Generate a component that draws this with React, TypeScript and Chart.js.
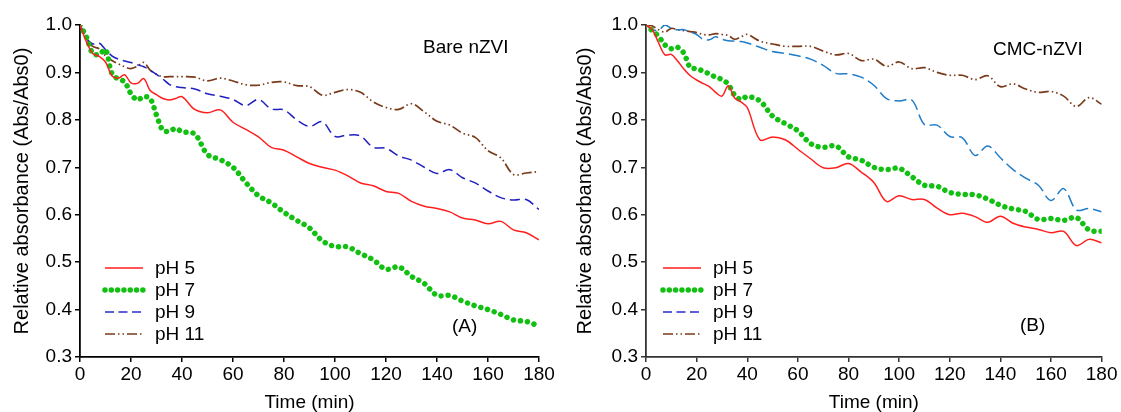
import React, { useEffect, useRef } from 'react';
import { Chart, registerables } from 'chart.js';

Chart.register(...registerables);

const FONT = '"Liberation Sans", Arial, sans-serif';

// Time (min)
const times = [
  0, 2.5, 5, 7.5, 10, 12.5, 15, 17.5, 20, 22.5, 25, 27.5, 30, 32.5, 35, 37.5, 40,
  45, 50, 55, 60, 65, 70, 75, 80, 85, 90, 95, 100, 105, 110, 115, 120, 125, 130,
  135, 140, 145, 150, 155, 160, 165, 170, 175, 180,
];

const seriesLabels = ['pH 5', 'pH 7', 'pH 9', 'pH 11'];

const xTicks = [0, 20, 40, 60, 80, 100, 120, 140, 160, 180];
const yTicks = [0.3, 0.4, 0.5, 0.6, 0.7, 0.8, 0.9, 1.0];

// (A) Bare nZVI
const barepH5 = [
  1.0, 0.965, 0.94, 0.934, 0.922, 0.893, 0.888, 0.895, 0.878, 0.877, 0.887, 0.862, 0.853, 0.845, 0.842, 0.845, 0.849,
  0.822, 0.815, 0.821, 0.795, 0.780, 0.764, 0.742, 0.736, 0.722, 0.708, 0.700, 0.694, 0.682, 0.667, 0.661, 0.649,
  0.645, 0.628, 0.618, 0.613, 0.606, 0.593, 0.589, 0.581, 0.586, 0.568, 0.562, 0.547,
];
const barepH7 = [
  1.0, 0.975, 0.94, 0.938, 0.948, 0.898, 0.886, 0.880, 0.855, 0.842, 0.849, 0.845, 0.81, 0.778, 0.776, 0.782, 0.775,
  0.770, 0.727, 0.716, 0.700, 0.668, 0.640, 0.625, 0.605, 0.588, 0.572, 0.545, 0.533, 0.532, 0.518, 0.505, 0.485,
  0.490, 0.470, 0.455, 0.430, 0.430, 0.418, 0.408, 0.400, 0.390, 0.378, 0.375, 0.365,
];
const barepH9 = [
  1.0, 0.972, 0.96, 0.962, 0.948, 0.935, 0.928, 0.924, 0.921, 0.916, 0.912, 0.905, 0.896, 0.886, 0.875, 0.870, 0.868,
  0.865, 0.855, 0.850, 0.843, 0.830, 0.843, 0.823, 0.821, 0.800, 0.786, 0.796, 0.765, 0.768, 0.766, 0.742, 0.740,
  0.724, 0.715, 0.700, 0.687, 0.695, 0.678, 0.667, 0.650, 0.636, 0.631, 0.632, 0.611,
];
const barepH11 = [
  1.0, 0.972, 0.955, 0.95, 0.935, 0.925, 0.918, 0.912, 0.908, 0.913, 0.921, 0.905, 0.896, 0.891, 0.891, 0.891, 0.891,
  0.890, 0.882, 0.888, 0.882, 0.874, 0.873, 0.879, 0.880, 0.872, 0.870, 0.852, 0.858, 0.864, 0.858, 0.838, 0.826,
  0.822, 0.834, 0.817, 0.797, 0.789, 0.772, 0.763, 0.735, 0.720, 0.685, 0.688, 0.691,
];

// (B) CMC-nZVI
const cmcpH5 = [
  1.0, 0.99, 0.962, 0.937, 0.938, 0.924, 0.907, 0.893, 0.884, 0.877, 0.870, 0.858, 0.850, 0.872, 0.846, 0.838, 0.826,
  0.758, 0.764, 0.758, 0.738, 0.718, 0.699, 0.699, 0.708, 0.690, 0.668, 0.628, 0.640, 0.632, 0.632, 0.614, 0.600,
  0.603, 0.596, 0.584, 0.597, 0.582, 0.574, 0.569, 0.562, 0.565, 0.535, 0.548, 0.541,
];
const cmcpH7 = [
  1.0, 0.988, 0.976, 0.958, 0.950, 0.953, 0.940, 0.910, 0.908, 0.903, 0.897, 0.890, 0.885, 0.875, 0.852, 0.843, 0.849,
  0.840, 0.808, 0.792, 0.777, 0.750, 0.742, 0.745, 0.722, 0.715, 0.700, 0.695, 0.698, 0.680, 0.662, 0.660, 0.647,
  0.643, 0.642, 0.633, 0.620, 0.612, 0.607, 0.590, 0.592, 0.588, 0.594, 0.568, 0.565,
];
const cmcpH9 = [
  1.0, 0.99, 0.989, 1.0, 0.993, 0.99, 0.99, 0.985, 0.98, 0.97, 0.969, 0.975, 0.97, 0.967, 0.966, 0.965, 0.962,
  0.953, 0.944, 0.940, 0.935, 0.928, 0.915, 0.898, 0.897, 0.890, 0.873, 0.845, 0.840, 0.842, 0.790, 0.789, 0.765,
  0.762, 0.725, 0.745, 0.720, 0.695, 0.677, 0.662, 0.630, 0.655, 0.610, 0.613, 0.606,
];
const cmcpH11 = [
  1.0, 0.998, 0.99, 0.985, 0.993, 0.99, 0.988, 0.986, 0.984, 0.98, 0.979, 0.982, 0.98, 0.978, 0.970, 0.975, 0.98,
  0.966, 0.960, 0.955, 0.955, 0.955, 0.945, 0.937, 0.940, 0.925, 0.928, 0.913, 0.922, 0.908, 0.910, 0.900, 0.894,
  0.894, 0.885, 0.893, 0.870, 0.876, 0.865, 0.858, 0.860, 0.850, 0.828, 0.847, 0.833,
];

const overlayPlugin = {
  id: 'overlay',
  afterDraw(chart: any, _args: any, opts: any) {
    const ctx = chart.ctx;
    ctx.save();
    const area = chart.chartArea;
    chart.data.datasets.forEach((ds: any, i: number) => {
      const y = opts.legendY + i * opts.rowGap;
      const x0 = area.left + opts.legendDx;
      ctx.beginPath();
      ctx.strokeStyle = ds.legendColor || ds.borderColor;
      ctx.lineWidth = ds.borderWidth;
      ctx.setLineDash(ds.legendDash || ds.borderDash || []);
      ctx.lineCap = ds.borderCapStyle || 'butt';
      ctx.moveTo(x0, y);
      ctx.lineTo(x0 + opts.lineLen, y);
      ctx.stroke();
      ctx.setLineDash([]);
      ctx.fillStyle = '#000';
      ctx.font = `19px ${FONT}`;
      ctx.textBaseline = 'middle';
      ctx.textAlign = 'left';
      ctx.fillText(ds.label, x0 + opts.lineLen + opts.textGap, y + 1);
    });
    (opts.labels || []).forEach((l: any) => {
      ctx.fillStyle = '#000';
      ctx.font = `19px ${FONT}`;
      ctx.textBaseline = 'middle';
      ctx.textAlign = 'left';
      ctx.fillText(l.text, l.x, l.y);
    });
    ctx.restore();
  },
};

function toPts(arr: number[]) {
  return times.map((t, i) => ({ x: t, y: arr[i] }));
}

function buildConfig(opts: {
  values: number[][];
  pH9Color: string;
  pH9Dash: number[];
  axisColor: string;
  yAxisWidth: number;
  rightPad: number;
  yTitlePad: number;
  legendDx: number;
  labels: { text: string; x: number; y: number }[];
}): any {
  const styles = [
    { color: '#ff1f1f', width: 1.5, dash: [] as number[], cap: 'butt' },
    { color: '#12c012', width: 5.5, dash: [0.01, 7], cap: 'round' },
    { color: opts.pH9Color, width: 1.5, dash: opts.pH9Dash, cap: 'butt' },
    { color: '#7a3a1a', width: 1.7, dash: [10, 3, 1.5, 3, 1.5, 3], cap: 'butt' },
  ];
  const datasets = opts.values.map((vals, i) => ({
    label: seriesLabels[i],
    data: toPts(vals),
    borderColor: styles[i].color,
    borderWidth: styles[i].width,
    borderDash: styles[i].dash,
    borderCapStyle: styles[i].cap,
    legendColor: i === 2 ? '#2a2acc' : styles[i].color,
    legendDash: i === 2 ? [9, 4.5] : i === 1 ? [0.01, 6.3] : styles[i].dash,
    pointRadius: 0,
    tension: 0.35,
    fill: false,
  }));
  const tickFont = { family: FONT, size: 19, lineHeight: 1 };
  return {
    type: 'line',
    data: { datasets },
    options: {
      responsive: false,
      animation: false,
      layout: { padding: { left: 0, right: opts.rightPad, top: 25, bottom: 0 } },
      plugins: {
        legend: { display: false },
        tooltip: { enabled: false },
        overlay: {
          legendY: 268,
          rowGap: 22,
          legendDx: opts.legendDx,
          lineLen: 38,
          textGap: 12,
          labels: opts.labels,
        },
      },
      scales: {
        x: {
          type: 'linear',
          min: 0,
          max: 180,
          afterBuildTicks: (scale: any) => {
            scale.ticks = xTicks.map((v) => ({ value: v }));
          },
          afterFit: (scale: any) => {
            scale.height = 55;
          },
          ticks: { font: tickFont, color: '#000', padding: 3.5, maxRotation: 0, autoSkip: false },
          grid: {
            display: true,
            drawOnChartArea: false,
            drawTicks: true,
            tickLength: 5,
            color: opts.axisColor,
            lineWidth: 1.5,
          },
          border: { display: true, color: opts.axisColor, width: 1.8 },
          title: {
            display: true,
            text: 'Time (min)',
            color: '#000',
            font: { family: FONT, size: 19, lineHeight: 1 },
            padding: { top: 0, bottom: 0 },
          },
        },
        y: {
          type: 'linear',
          min: 0.3,
          max: 1.0,
          afterBuildTicks: (scale: any) => {
            scale.ticks = yTicks.map((v) => ({ value: v }));
          },
          afterFit: (scale: any) => {
            scale.width = opts.yAxisWidth;
          },
          ticks: {
            font: tickFont,
            color: '#000',
            padding: 3,
            callback: (v: any) => Number(v).toFixed(1),
          },
          grid: {
            display: true,
            drawOnChartArea: false,
            drawTicks: true,
            tickLength: 5,
            color: opts.axisColor,
            lineWidth: 1.5,
          },
          border: { display: true, color: opts.axisColor, width: 1.8 },
          title: {
            display: true,
            text: 'Relative absorbance (Abs/Abs0)',
            color: '#000',
            font: { family: FONT, size: 20, lineHeight: 1 },
            padding: { top: opts.yTitlePad, bottom: 0 },
          },
        },
      },
    },
    plugins: [overlayPlugin],
  };
}

export default function App() {
  const leftRef = useRef<HTMLCanvasElement>(null);
  const rightRef = useRef<HTMLCanvasElement>(null);

  useEffect(() => {
    const left = new Chart(
      leftRef.current as HTMLCanvasElement,
      buildConfig({
        values: [barepH5, barepH7, barepH9, barepH11],
        pH9Color: '#2020c0',
        pH9Dash: [10, 5],
        axisColor: '#000',
        yAxisWidth: 80,
        rightPad: 21,
        yTitlePad: 12,
        legendDx: 25,
        labels: [
          { text: 'Bare nZVI', x: 423, y: 48 },
          { text: '(A)', x: 452, y: 327 },
        ],
      })
    );
    const right = new Chart(
      rightRef.current as HTMLCanvasElement,
      buildConfig({
        values: [cmcpH5, cmcpH7, cmcpH9, cmcpH11],
        pH9Color: '#1f7cc8',
        pH9Dash: [12, 5],
        axisColor: '#333',
        yAxisWidth: 86,
        rightPad: 18,
        yTitlePad: 15,
        legendDx: 17,
        labels: [
          { text: 'CMC-nZVI', x: 433, y: 50 },
          { text: '(B)', x: 460, y: 326 },
        ],
      })
    );
    return () => {
      left.destroy();
      right.destroy();
    };
  }, []);

  return (
    <div style={{ position: 'absolute', left: 0, top: 0, width: 1121, height: 412, background: '#fff' }}>
      <canvas ref={leftRef} width={560} height={412} style={{ position: 'absolute', left: 0, top: 0 }} />
      <canvas ref={rightRef} width={561} height={412} style={{ position: 'absolute', left: 560, top: 0 }} />
    </div>
  );
}
